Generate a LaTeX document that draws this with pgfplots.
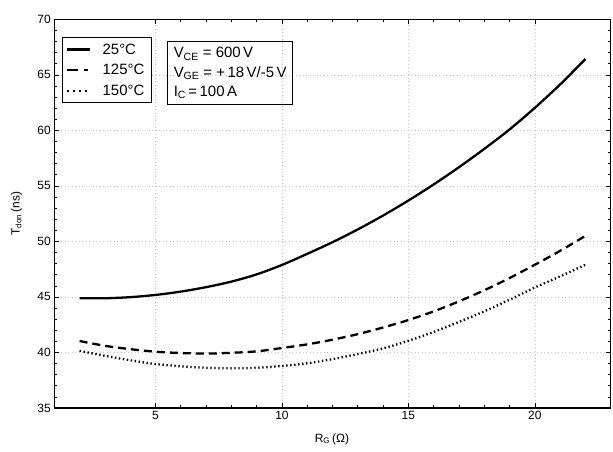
\documentclass[border=0pt]{standalone}
\usepackage{pgfplots}
\pgfplotsset{compat=1.18}
\usepackage{fontspec}
\setmainfont{Liberation Sans}
\newcommand{\lgap}{\rule{8bp}{0pt}}

\begin{document}
\begin{tikzpicture}
\path[use as bounding box] (-54.3bp,-44bp) rectangle (558.7bp,408bp);
\begin{axis}[
    scale only axis,
    width=556.4bp, height=388.7bp,
    xmin=1, xmax=23, ymin=35, ymax=70,
    xtick={5,10,15,20}, ytick={35,40,...,70},
    minor x tick num=4, minor y tick num=4,
    tick pos=both, tick align=inside,
    major tick length=5bp, minor tick length=3bp,
    every tick/.style={black, line width=0.6bp},
    axis line style={black, line width=1.1bp},
    grid=major,
    major grid style={gray!45, line width=0.6bp, dash pattern=on 1bp off 2.5bp},
    tick label style={font=\fontsize{12}{14}\selectfont},
    /pgf/number format/assume math mode=true,
    xlabel={R\textsubscript{G}\,(Ω)},
    ylabel={T\textsubscript{don}\,(ns)},
    label style={font=\fontsize{12}{14}\selectfont},
    xlabel style={at={(axis description cs:0.499,-0.0798)}, anchor=center},
    ylabel style={at={(axis description cs:-0.068,0.5)}, anchor=center, rotate=0},
    legend image code/.code={\draw[#1] (0bp,0bp) -- (23bp,0bp);},
    legend style={at={(rel axis cs:0.0133,0.9537)}, anchor=north west,
        draw=black, line width=0.9bp, inner xsep=4bp, inner ysep=1.5bp,
        font=\fontsize{15}{18}\selectfont,
        cells={anchor=west},
        nodes={inner xsep=3.2bp, inner ysep=4.4bp}},
]
\addplot[black, line width=2.3bp, smooth] coordinates {
(2,44.88) (3,44.88) (4,44.98) (5,45.18) (6,45.48) (7,45.88) (8,46.38)
(9,47.03) (10,47.88) (11,48.88) (12,49.93) (13,51.08) (14,52.33) (15,53.68)
(16,55.13) (17,56.68) (18,58.33) (19,60.08) (20,62.03) (21,64.13) (22,66.43)};
\addlegendentry{\lgap 25°C}
\addplot[black, line width=2.3bp, smooth, dash pattern=on 8bp off 5bp,
    legend image post style={dash pattern=on 11bp off 6bp on 4bp off 9bp}] coordinates {
(2,41.03) (3,40.6) (4,40.3) (5,40.07) (6,39.95) (7,39.9) (8,39.97)
(9,40.1) (10,40.4) (11,40.73) (12,41.15) (13,41.65) (14,42.25) (15,42.92)
(16,43.7) (17,44.6) (18,45.6) (19,46.7) (20,47.9) (21,49.15) (22,50.5)};
\addlegendentry{\lgap 125°C}
\addplot[black, line width=2.3bp, smooth, dash pattern=on 1.4bp off 2.6bp,
    legend image post style={dash pattern=on 1.8bp off 4.2bp}] coordinates {
(2,40.15) (3,39.7) (4,39.3) (5,38.96) (6,38.75) (7,38.63) (8,38.57)
(9,38.62) (10,38.78) (11,39.03) (12,39.4) (13,39.86) (14,40.37) (15,41.05)
(16,41.85) (17,42.75) (18,43.7) (19,44.75) (20,45.85) (21,46.85) (22,47.9)};
\addlegendentry{\lgap 150°C}
\node[draw=black, line width=0.9bp, anchor=north west, align=left,
      inner xsep=6bp, inner ysep=5.5bp, font=\fontsize{15}{19.5}\selectfont]
  at (rel axis cs:0.2031,0.9434)
  {V\textsubscript{CE} = 600\,V\\
   V\textsubscript{GE} = +\,18\,V/-5\,V\\
   I\textsubscript{C}\,=\,100\,A};
\end{axis}
\end{tikzpicture}
\end{document}
